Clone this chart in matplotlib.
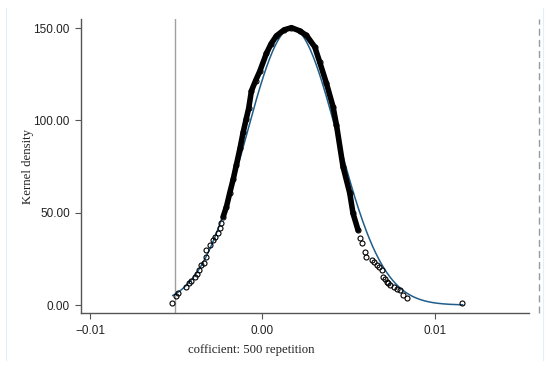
import numpy as np
import matplotlib
matplotlib.use("Agg")
import matplotlib.pyplot as plt
from matplotlib.font_manager import FontProperties

# Kernel density estimates at the sample points
kde_x = [-0.00524, -0.00504, -0.00491, -0.00441, -0.00426, -0.00412, -0.00392,
         -0.00379, -0.00368, -0.00354, -0.00339, -0.00329, -0.00325, -0.00306,
         -0.00286, -0.00277, -0.00257, -0.00248, -0.00238, -0.00228, -0.00209,
         -0.00190, -0.00170, -0.00151, -0.00130, -0.00112, -0.00095, -0.00080,
         -0.00064, -0.00040, -0.00016, 0.00023,
         0.00050, 0.00081, 0.00125, 0.00168, 0.00215, 0.00255, 0.00303, 0.00332,
         0.00371, 0.00409, 0.00429,
         0.00467, 0.00506, 0.00525, 0.00554, 0.00565, 0.00575, 0.00592, 0.00603,
         0.00632, 0.00645, 0.00661, 0.00675,
         0.00690, 0.00699, 0.00709, 0.00719, 0.00728, 0.00738, 0.00760, 0.00780,
         0.00796, 0.00815, 0.00835, 0.01159]
kde_y = [0.9, 4.9, 6.5, 9.6, 11.8, 13.0, 15.0,
         16.8, 18.9, 21.7, 22.6, 26.1, 29.8, 32.5,
         35.2, 37.0, 38.8, 41.7, 44.2, 47.8, 53.2,
         60.6, 68.0, 76.0, 85.0, 93.5, 100.5, 106.5,
         116.0, 121.5, 126.5, 136.3,
         141.5, 145.8, 149.0, 150.2, 148.5, 146.0, 139.8, 131.5,
         120.0, 107.4, 97.5,
         74.9, 60.6, 49.6, 40.6, 36.5, 33.5, 28.5, 26.1,
         24.4, 23.2, 21.7, 20.5,
         18.9, 15.3, 14.0, 12.6, 11.7, 10.8, 9.8, 8.8,
         8.1, 5.4, 3.6, 0.9]

# dense core where the markers overlap into a solid band
core_lo, core_hi = -0.00235, 0.00560

# normal density overlay (mean / sd)
norm_mean = 0.0017
norm_sd = 0.00266
norm_range = (-0.0052, 0.0116)

# reference lines
xline_solid = -0.00508
xline_dashed = 0.01603

xticks = [-0.01, 0.0, 0.01]
xtick_labels = ["\u22120.01", "0.00", "0.01"]
yticks = [0, 50, 100, 150]
ytick_labels = ["0.00", "50.00", "100.00", "150.00"]

fig = plt.figure(figsize=(5.5, 3.68), dpi=100)
ax = fig.add_axes([81/550, 1-313/368, (529-81)/550, (313-19)/368])

ax.set_xlim(-0.01052, 0.01545)
ax.set_ylim(-4.3, 154.9)

# normal curve
nx = np.linspace(norm_range[0], norm_range[1], 300)
ny = np.exp(-0.5*((nx-norm_mean)/norm_sd)**2) / (norm_sd*np.sqrt(2*np.pi))
ax.plot(nx, ny, color="#1f5d8a", lw=1.1, zorder=3)

kx = np.array(kde_x); ky = np.array(kde_y)
m = (kx >= core_lo) & (kx <= core_hi)
ax.plot(kx[m], ky[m], color="black", lw=4.0, solid_capstyle="round",
        solid_joinstyle="round", zorder=4)
ax.plot(kx, ky, linestyle="none", marker="o", ms=3.6, mfc="none",
        mec="black", mew=0.8, zorder=5)

ax.axvline(xline_solid, color="#a0a0a0", lw=1.0, zorder=2)
ax.axvline(xline_dashed, color="#9a9a9a", lw=1.0, ls=(0, (5, 3)),
           clip_on=False, zorder=2)

for s in ["top", "right"]:
    ax.spines[s].set_visible(False)
for s in ["left", "bottom"]:
    ax.spines[s].set_color("#555555")
    ax.spines[s].set_linewidth(1.0)

ax.set_xticks(xticks)
ax.set_xticklabels(xtick_labels)
ax.set_yticks(yticks)
ax.set_yticklabels(ytick_labels)
ax.tick_params(axis="both", colors="#555555", length=4, width=0.8,
               labelcolor="#222222")
ax.tick_params(axis="y", pad=4)
ax.tick_params(axis="x", pad=5)
fp = FontProperties(family=["Liberation Sans", "DejaVu Sans"], size=8.5)
for lab in ax.get_xticklabels() + ax.get_yticklabels():
    lab.set_fontproperties(fp)

fig.text(251.5/550, 1-350/368, "cofficient: 500 repetition", ha="center",
         va="center", family="Liberation Serif", fontsize=9.2, color="#222222")
fig.text(28/550, 1-167/368, "Kernel density", ha="center", va="center",
         rotation=90, family="Liberation Serif", fontsize=9.2, color="#222222")

# faint outer frame lines
for xf in [6/550, 543/550]:
    fig.add_artist(plt.Line2D([xf, xf], [1-360/368, 1-8/368],
                              color="#e4eef6", lw=0.8))

fig.savefig("out.png", dpi=100)
